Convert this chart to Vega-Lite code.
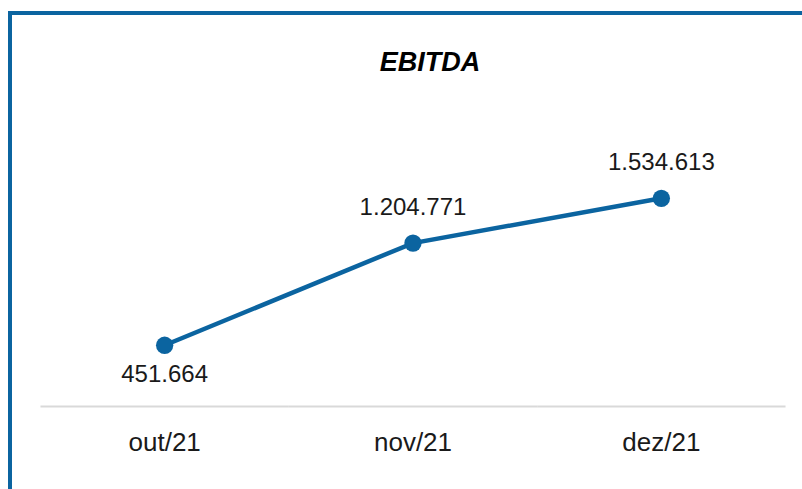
{
  "$schema": "https://vega.github.io/schema/vega-lite/v6.json",
  "width": 806,
  "height": 480,
  "autosize": {"type": "none"},
  "padding": {"left": 10, "top": 13, "right": 0, "bottom": 0},
  "background": "white",
  "title": {
    "text": "EBITDA",
    "font": "Liberation Sans",
    "fontSize": 27,
    "fontWeight": "bold",
    "fontStyle": "italic",
    "color": "#000000",
    "anchor": "middle",
    "baseline": "middle",
    "offset": -77,
    "dx": 17
  },
  "config": {
    "view": {"stroke": "#0b64a0", "strokeWidth": 4},
    "locale": {
      "number": {"decimal": ",", "thousands": ".", "grouping": [3], "currency": ["R$", ""]}
    }
  },
  "data": {
    "values": [
      {"month": "out/21", "value": 451664},
      {"month": "nov/21", "value": 1204771},
      {"month": "dez/21", "value": 1534613}
    ]
  },
  "encoding": {
    "x": {
      "field": "month",
      "type": "nominal",
      "sort": null,
      "bandPosition": 0.5,
      "scale": {"type": "band", "paddingInner": 0, "paddingOuter": 0.1227},
      "axis": {
        "title": null,
        "domain": false,
        "ticks": false,
        "tickSize": 0,
        "grid": false,
        "labelAngle": 0,
        "labelFont": "Liberation Sans",
        "labelFontSize": 26,
        "labelColor": "#1a1a1a",
        "labelPadding": 0,
        "labelBaseline": "middle",
        "offset": -51
      }
    },
    "y": {
      "field": "value",
      "type": "quantitative",
      "scale": {"domain": [-637000, 2900000], "nice": false, "zero": false},
      "axis": null
    }
  },
  "layer": [
    {
      "mark": {"type": "rule", "color": "#d9d9d9", "strokeWidth": 2},
      "encoding": {
        "x": {"field": "month", "type": "nominal", "sort": null, "bandPosition": 0},
        "x2": {"field": "month", "bandPosition": 1},
        "y": {"datum": 0, "type": "quantitative"}
      }
    },
    {
      "mark": {"type": "line", "color": "#0b64a0", "strokeWidth": 4.5}
    },
    {
      "mark": {"type": "point", "filled": true, "opacity": 1, "size": 300, "color": "#0b64a0"}
    },
    {
      "transform": [{"filter": "datum.month === 'out/21'"}],
      "mark": {"type": "text", "font": "Liberation Sans", "fontSize": 24, "color": "#1a1a1a", "baseline": "middle", "dy": 30},
      "encoding": {"text": {"field": "value", "type": "quantitative", "format": ",.0f"}}
    },
    {
      "transform": [{"filter": "datum.month !== 'out/21'"}],
      "mark": {"type": "text", "font": "Liberation Sans", "fontSize": 24, "color": "#1a1a1a", "baseline": "middle", "dy": -35},
      "encoding": {"text": {"field": "value", "type": "quantitative", "format": ",.0f"}}
    }
  ]
}
